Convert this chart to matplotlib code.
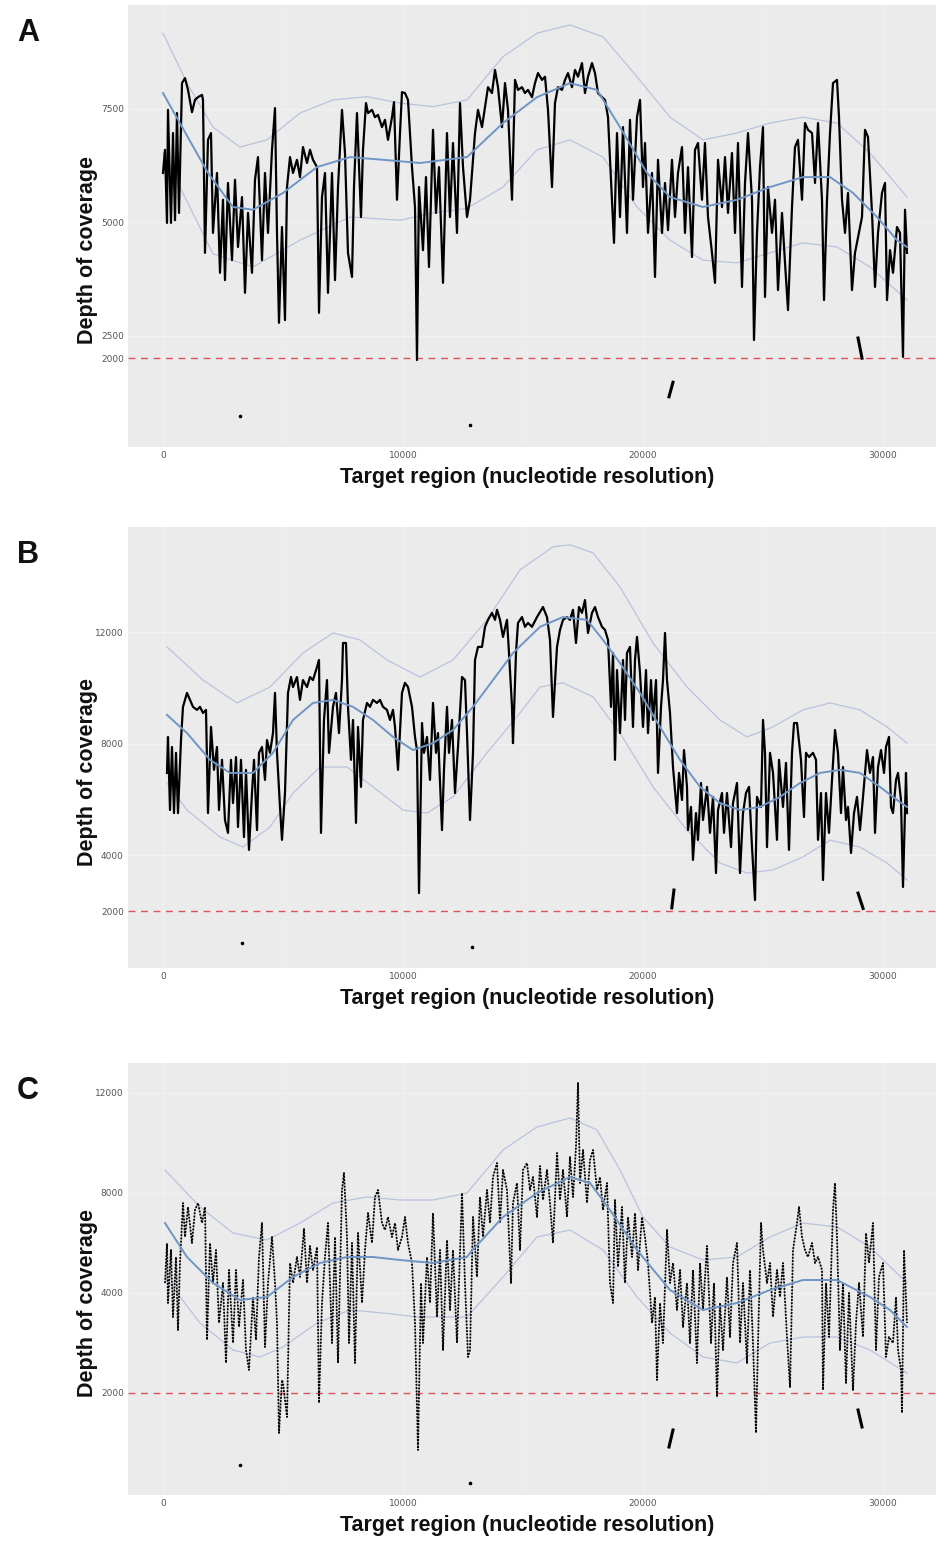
import numpy as np
import matplotlib.pyplot as plt

# ---------------- panel A ----------------
a_pos = [0, 83, 167, 208, 333, 417, 500, 583, 667, 792, 917, 1042, 1208, 1333, 1458, 1625, 1667, 1750, 1875, 2000,
         2083, 2250, 2375, 2500, 2583, 2708, 2875, 3000, 3125, 3292, 3417, 3542, 3708, 3833, 3958, 4125, 4250, 4375,
         4542, 4667, 4750, 4833, 4958, 5083, 5167, 5292, 5417, 5583, 5708, 5833, 6000, 6125, 6250, 6417, 6500, 6625,
         6750, 6875, 7042, 7167, 7292, 7458, 7583, 7708, 7875, 7958, 8083, 8250, 8333, 8458, 8542, 8708, 8833, 8958,
         9125, 9250, 9375, 9542, 9625, 9750, 9875, 9958, 10083, 10208, 10375, 10500, 10583, 10667, 10833, 10958,
         11083, 11250, 11375, 11500, 11667, 11833, 11958, 12083, 12250, 12375, 12500, 12667, 12792, 13000, 13125,
         13292, 13417, 13542, 13708, 13833, 13958, 14125, 14250, 14375, 14542, 14667, 14792, 14958, 15083, 15208,
         15375, 15500, 15625, 15792, 15917, 16042, 16208, 16333, 16458, 16625, 16750, 16875, 17042, 17167, 17292,
         17458, 17583, 17708, 17875, 18000, 18125, 18292, 18417, 18542, 18708, 18792, 18917, 19042, 19167, 19333,
         19458, 19583, 19750, 19875, 20000, 20083, 20208, 20375, 20500, 20625, 20792, 20917, 21042, 21208, 21333,
         21458, 21625, 21750, 21875, 22042, 22167, 22292, 22458, 22583, 22708, 22875, 23000, 23125, 23292, 23417,
         23542, 23708, 23833, 23958, 24125, 24250, 24375, 24542, 24625, 24750, 24875, 25000, 25083, 25208, 25375,
         25500, 25625, 25792, 25917, 26042, 26208, 26333, 26458, 26625, 26750, 26875, 27042, 27167, 27292, 27458,
         27542, 27667, 27792, 27917, 28083, 28167, 28292, 28417, 28542, 28708, 28833, 29125, 29250, 29375, 29542,
         29667, 29792, 29958, 30083, 30167, 30292, 30417, 30583, 30708, 30833, 30917, 31000]
a_depth = [6080, 6590, 4980, 7470, 4980, 6960, 5040, 7400, 5200, 8060, 8170, 7910, 7420, 7690, 7750, 7800, 7690, 4320,
           6810, 6960, 4760, 6080, 3880, 5490, 3720, 5860, 4160, 5930, 4450, 5550, 3440, 5200, 3880, 5930, 6430, 4160,
           6080, 4760, 6590, 7510, 4760, 2780, 4890, 2840, 5770, 6430, 6080, 6370, 5990, 6650, 6300, 6590, 6370, 6210,
           3000, 5550, 6080, 3440, 6080, 3720, 5770, 7470, 6520, 4320, 3790, 5770, 7400, 5110, 6590, 7620, 7400, 7470,
           7310, 7360, 7090, 7250, 6810, 7310, 7640, 5490, 6960, 7860, 7840, 7690, 6210, 5330, 1960, 5770, 4380, 5990,
           4010, 7030, 5200, 6210, 3660, 6960, 5110, 6740, 4760, 7620, 6210, 5110, 5490, 6960, 7470, 7090, 7530, 7970,
           7840, 8350, 7970, 7090, 8060, 7470, 5490, 8130, 7910, 7970, 7840, 7910, 7750, 8060, 8280, 8130, 8200, 7470,
           5770, 7620, 7970, 7910, 8130, 8280, 7970, 8350, 8200, 8500, 7840, 8200, 8500, 8280, 7840, 7750, 7690, 7310,
           5490, 4540, 6960, 5110, 7090, 4760, 7250, 5490, 7310, 7690, 5770, 6740, 4760, 6080, 3790, 6370, 4760, 5860,
           4820, 6370, 5110, 6080, 6650, 4760, 6210, 4230, 6590, 6740, 5490, 6740, 5110, 4320, 3660, 6370, 5330, 6430,
           5200, 6520, 4760, 6740, 3570, 5860, 6960, 5490, 2400, 4760, 6210, 7090, 3350, 5770, 4760, 5490, 3500, 5200,
           4100, 3060, 5330, 6650, 6810, 5490, 7180, 7030, 6960, 5860, 7180, 5490, 3280, 5490, 6960, 8060, 8130, 7310,
           5490, 4760, 5640, 3500, 4320, 5110, 7030, 6870, 5200, 3570, 4760, 5640, 5860, 3280, 4380, 3880, 4890, 4760,
           2030, 5270, 4320]
a_fit_pos = [0, 1875, 2917, 3750, 5000, 6417, 7792, 9167, 10708, 12667, 14167, 15583, 16958, 18083, 19042, 20167,
             21125, 22500, 23917, 25292, 26667, 27792, 28750, 29750, 30583, 31000]
a_fit = [7840, 6080, 5330, 5270, 5640, 6210, 6430, 6370, 6300, 6430, 7180, 7750, 8060, 7910, 7090, 6080, 5550, 5330,
         5490, 5770, 5990, 5990, 5640, 5110, 4600, 4450]
a_upper_pos = [0, 1000, 2083, 3208, 4333, 5708, 7083, 8500, 9875, 11250, 12667, 14167, 15583, 16958, 18333, 19750,
               21125, 22500, 23917, 25292, 26667, 28083, 29458, 31000]
a_upper = [9160, 8060, 7090, 6650, 6810, 7400, 7690, 7760, 7620, 7540, 7690, 8640, 9160, 9340, 9080, 8200, 7310, 6810,
           6960, 7180, 7310, 7180, 6520, 5550]
a_lower_pos = [0, 2083, 3750, 5708, 7792, 9875, 11250, 12667, 14167, 15583, 16958, 18333, 19750, 21125, 22500, 23917,
               25292, 26667, 28083, 29458, 31000]
a_lower = [6520, 4300, 4010, 4600, 5110, 5040, 5200, 5300, 5770, 6590, 6810, 6430, 5330, 4600, 4160, 4100, 4320, 4540,
           4450, 4010, 3280]
a_iso_pos = [[3208], [12792], [21083, 21250], [28960, 29125]]
a_iso_depth = [[727], [530], [1150, 1470], [2445, 2000]]

# ---------------- panel B ----------------
b_pos = [167, 208, 292, 375, 458, 542, 625, 750, 833, 1000, 1125, 1250, 1417, 1542, 1667, 1792, 1875, 2000, 2125, 2250,
         2333, 2458, 2583, 2708, 2833, 2917, 3042, 3125, 3250, 3375, 3458, 3583, 3708, 3792, 3917, 4000, 4125, 4250,
         4333, 4458, 4583, 4667, 4750, 4875, 4958, 5083, 5208, 5333, 5417, 5583, 5708, 5833, 6000, 6125, 6250, 6417,
         6500, 6583, 6708, 6833, 6917, 7083, 7208, 7333, 7458, 7500, 7625, 7708, 7833, 7917, 8042, 8125, 8250, 8333,
         8500, 8625, 8750, 8917, 9042, 9167, 9333, 9458, 9583, 9667, 9792, 9958, 10083, 10208, 10375, 10500, 10583,
         10667, 10792, 10875, 11000, 11125, 11250, 11375, 11458, 11625, 11708, 11833, 11917, 12042, 12167, 12292,
         12458, 12583, 12667, 12792, 12917, 13000, 13125, 13292, 13417, 13542, 13708, 13833, 13917, 14042, 14167,
         14333, 14417, 14542, 14583, 14708, 14792, 14958, 15083, 15208, 15375, 15583, 15833, 16000, 16125, 16250,
         16417, 16542, 16667, 16833, 16958, 17083, 17208, 17333, 17458, 17583, 17708, 17875, 18000, 18125, 18292,
         18417, 18542, 18667, 18750, 18833, 18917, 19042, 19167, 19250, 19333, 19458, 19583, 19667, 19750, 19875,
         20000, 20125, 20208, 20333, 20417, 20542, 20625, 20750, 20833, 20917, 21000, 21125, 21250, 21417, 21500,
         21625, 21708, 21833, 21875, 22000, 22083, 22208, 22292, 22417, 22500, 22667, 22792, 22917, 23042, 23125,
         23292, 23375, 23500, 23667, 23750, 23917, 24042, 24167, 24292, 24417, 24542, 24667, 24750, 24917, 25000,
         25083, 25167, 25292, 25417, 25583, 25667, 25833, 25958, 26083, 26208, 26292, 26417, 26583, 26708, 26792,
         26917, 27083, 27208, 27292, 27417, 27500, 27625, 27750, 27875, 28000, 28125, 28250, 28333, 28458, 28542,
         28667, 28792, 28917, 29042, 29167, 29333, 29458, 29583, 29667, 29792, 29917, 30042, 30125, 30250, 30333,
         30417, 30542, 30625, 30750, 30833, 30958, 31000]
b_depth = [6960, 8250, 5630, 7890, 5520, 7680, 5520, 8140, 9330, 9830, 9580, 9330, 9220, 9330, 9110, 9220, 5520, 8610,
           7070, 7890, 5630, 7430, 5270, 4810, 7430, 5880, 7530, 5020, 7430, 4660, 7070, 4200, 6240, 7430, 4910, 7680,
           7890, 6710, 8140, 7680, 8390, 9830, 7680, 5740, 4560, 6240, 9830, 10400, 10040, 10400, 9580, 10290, 10040,
           10400, 10290, 10760, 11010, 4810, 8860, 10290, 7680, 9330, 9830, 8390, 10290, 11620, 11620, 9330, 7430,
           8860, 5170, 8610, 6460, 8860, 9470, 9330, 9580, 9470, 9580, 9330, 9220, 8860, 9220, 8610, 7070, 9830, 10190,
           10040, 9330, 8250, 7780, 2650, 8750, 7680, 8250, 6710, 9470, 7680, 8390, 4910, 7070, 9330, 7680, 8860, 6240,
           7890, 10400, 10290, 8390, 5270, 7680, 11010, 11480, 11480, 12200, 12450, 12700, 12450, 12810, 12450, 11840,
           12450, 11260, 9330, 8030, 11260, 12340, 12550, 12200, 12340, 12200, 12550, 12910, 12550, 11730, 8970,
           11480, 12090, 12450, 12550, 12450, 12810, 11620, 12910, 12700, 13160, 11980, 12700, 12910, 12550, 12200,
           12090, 11730, 9330, 11260, 7430, 10650, 8390, 11010, 8860, 11260, 11480, 8610, 11010, 11840, 10550, 8610,
           10650, 8390, 10290, 8860, 10290, 6960, 9330, 10290, 11980, 10290, 9110, 7170, 5520, 6960, 5990, 7780, 6460,
           4910, 5740, 3840, 5520, 4560, 6600, 5270, 6460, 4810, 6100, 3370, 5630, 6240, 4810, 6240, 4300, 5880, 6600,
           3370, 5520, 6240, 6460, 4300, 2400, 6100, 5740, 8860, 7680, 4300, 7680, 6960, 4560, 7430, 5740, 7320, 4200,
           7680, 8750, 8750, 7430, 5380, 7680, 7530, 7680, 7430, 4560, 6240, 3120, 6240, 4810, 6710, 8500, 7680, 5520,
           7170, 5270, 5740, 4090, 5520, 6100, 4910, 6100, 7780, 6960, 7530, 4810, 7170, 7780, 6960, 7890, 8250, 5740,
           5520, 6710, 6960, 5990, 2870, 6960, 5520]
b_fit_pos = [167, 1000, 1958, 2792, 3750, 4583, 5417, 6250, 7083, 7917, 8750, 9583, 10417, 11250, 12083, 12917, 13750,
             14583, 15708, 16667, 17667, 18333, 19042, 19875, 20708, 21542, 22375, 23208, 24042, 24875, 25708, 26542,
             27375, 28208, 29042, 29875, 30583, 31000]
b_fit = [9040, 8390, 7430, 6960, 6960, 7680, 8860, 9470, 9580, 9330, 8860, 8250, 7780, 8030, 8500, 9330, 10290, 11260,
         12200, 12550, 12450, 11730, 10900, 9830, 8610, 7430, 6460, 5880, 5630, 5740, 6100, 6600, 6960, 7070, 6960,
         6460, 5990, 5740]
b_upper_pos = [167, 1667, 3083, 4458, 5833, 7083, 8208, 9333, 10708, 12083, 13500, 14875, 16250, 16958, 17917, 19042,
               20417, 21833, 23208, 24333, 25417, 26667, 27792, 29042, 30167, 31000]
b_upper = [11480, 10290, 9470, 10040, 11260, 11980, 11730, 11010, 10400, 11010, 12450, 14240, 15070, 15140, 14850,
           13630, 11620, 10040, 8860, 8250, 8610, 9220, 9470, 9220, 8610, 8030]
b_lower_pos = [167, 1000, 2375, 3333, 4458, 5417, 6542, 7667, 8750, 10000, 11000, 12083, 13500, 14875, 15708, 16667,
               17917, 19042, 20417, 21833, 23208, 24333, 25417, 26667, 27792, 29042, 30167, 31000]
b_lower = [6600, 5630, 4660, 4300, 5020, 6240, 7170, 7170, 6460, 5630, 5520, 6100, 7680, 9110, 10040, 10190, 9690,
           8390, 6460, 4910, 3730, 3370, 3480, 3950, 4550, 4300, 3730, 3120]
b_iso_pos = [[3292], [12875], [21200, 21290], [28960, 29170]]
b_iso_depth = [[860], [720], [2120, 2760], [2650, 2100]]

# ---------------- panel C ----------------
c_pos = [83, 167, 208, 333, 417, 542, 625, 708, 833, 917, 1042, 1208, 1333, 1458, 1625, 1750, 1833, 1958, 2083, 2208,
         2333, 2500, 2625, 2750, 2917, 3042, 3167, 3333, 3458, 3583, 3750, 3875, 4000, 4125, 4250, 4375, 4542, 4667,
         4750, 4833, 4958, 5000, 5167, 5292, 5417, 5583, 5708, 5875, 6000, 6125, 6250, 6417, 6500, 6625, 6750, 6875,
         7042, 7167, 7292, 7458, 7542, 7667, 7750, 7875, 8000, 8125, 8292, 8417, 8542, 8708, 8833, 8958, 9125, 9250,
         9375, 9542, 9667, 9792, 9958, 10083, 10208, 10375, 10500, 10625, 10750, 10833, 11000, 11125, 11250, 11417,
         11542, 11667, 11833, 11958, 12083, 12250, 12458, 12583, 12708, 12792, 12917, 13083, 13208, 13333, 13500,
         13625, 13750, 13917, 14042, 14167, 14333, 14500, 14583, 14750, 14875, 15000, 15167, 15292, 15417, 15583,
         15708, 15833, 16000, 16125, 16250, 16417, 16542, 16667, 16833, 16958, 17083, 17208, 17292, 17375, 17500,
         17667, 17792, 17917, 18083, 18208, 18333, 18500, 18625, 18750, 18833, 18958, 19125, 19250, 19375, 19542,
         19667, 19792, 19958, 20083, 20208, 20375, 20500, 20583, 20708, 20833, 21000, 21125, 21250, 21417, 21542,
         21667, 21833, 21958, 22083, 22250, 22375, 22500, 22667, 22833, 22958, 23083, 23208, 23333, 23500, 23625,
         23750, 23917, 24042, 24167, 24333, 24458, 24583, 24708, 24792, 24917, 25000, 25167, 25292, 25417, 25583,
         25708, 25833, 26000, 26125, 26250, 26417, 26500, 26625, 26750, 26875, 27042, 27167, 27292, 27458, 27500,
         27625, 27750, 27917, 28000, 28083, 28208, 28333, 28458, 28583, 28750, 28875, 29000, 29167, 29292, 29417,
         29583, 29708, 29833, 30000, 30125, 30250, 30417, 30542, 30625, 30750, 30792, 30875, 31000]
c_depth = [4400, 5960, 3800, 5720, 3520, 5440, 3260, 5200, 7600, 6240, 7440, 6000, 7320, 7600, 6800, 7440, 3060, 6000,
           4400, 5720, 3400, 4400, 2600, 4920, 3000, 4920, 3320, 4520, 2860, 2460, 3920, 3060, 5440, 6800, 2920, 4400,
           6240, 4400, 3400, 1200, 2260, 2200, 1520, 5200, 4400, 5440, 4640, 6560, 4400, 5880, 4920, 5840, 1800, 3800,
           5440, 6800, 3000, 6240, 2600, 8120, 8800, 6240, 3000, 6000, 2600, 6400, 3800, 5720, 7200, 6000, 7840, 8120,
           6800, 6520, 7040, 6240, 6800, 5720, 6240, 7040, 6000, 5200, 3400, 860, 4400, 3000, 5440, 3800, 7200, 3520,
           5720, 2860, 6120, 3660, 5720, 3000, 8000, 4400, 2720, 2860, 7040, 4640, 7840, 6240, 8120, 6800, 8640, 9200,
           6800, 8920, 8120, 4400, 7600, 8400, 5720, 8920, 9200, 8120, 8640, 7040, 9080, 7720, 8920, 7600, 6000, 9600,
           7720, 8920, 7040, 9440, 7840, 9840, 12400, 8400, 9720, 7600, 9320, 9720, 8120, 8640, 7320, 8400, 4400, 3800,
           7720, 5040, 7440, 4400, 7040, 5440, 7200, 4920, 7040, 6240, 5200, 3400, 3920, 2260, 3800, 3000, 6520, 4400,
           5200, 3660, 4920, 3320, 4400, 3000, 4920, 2600, 5200, 3660, 5880, 3000, 4400, 1920, 3800, 2860, 4640, 3120,
           5200, 6000, 3000, 4400, 2600, 4920, 3000, 1200, 3000, 6800, 5720, 4400, 5200, 3520, 4920, 3920, 5200, 3120,
           2120, 5720, 6800, 7440, 6240, 5720, 5440, 6000, 5200, 5440, 4920, 2060, 4400, 3120, 7320, 8400, 6240, 2860,
           4400, 2200, 4000, 2060, 3400, 4400, 3120, 6400, 5200, 6800, 2860, 4640, 5200, 2720, 3120, 3000, 3920, 2860,
           2460, 1600, 5720, 3400]
c_fit_pos = [83, 1000, 2083, 3208, 4333, 5417, 6542, 7667, 8750, 9875, 11250, 12667, 12792, 14167, 15583, 16958,
             17792, 18625, 19750, 21125, 22500, 23917, 25292, 26667, 28083, 29458, 30292, 31000]
c_fit = [6800, 5440, 4400, 3860, 3920, 4640, 5200, 5440, 5440, 5320, 5200, 5440, 5600, 7040, 8000, 8640, 8400, 7320,
         5720, 4120, 3660, 3800, 4120, 4520, 4520, 3920, 3660, 3320]
c_upper_pos = [83, 1542, 2917, 4333, 5708, 7083, 8500, 9875, 11250, 12667, 14167, 15583, 16958, 18083, 19042, 20000,
               21125, 22500, 23917, 25292, 26667, 28083, 29458, 31000]
c_upper = [8920, 7440, 6400, 6120, 6800, 7600, 7840, 7720, 7720, 8000, 9720, 10640, 11000, 10520, 8920, 7040, 5840,
           5320, 5440, 6240, 6800, 6640, 5840, 4400]
c_lower_pos = [83, 1542, 2917, 4042, 5000, 6417, 7792, 9167, 10583, 12667, 14167, 15583, 16958, 18333, 19750, 21125,
               22500, 23917, 25292, 26667, 28083, 29458, 31000]
c_lower = [4640, 3400, 2860, 2720, 2920, 3400, 3660, 3600, 3520, 3520, 4640, 6240, 6520, 5720, 3920, 3200, 2720, 2600,
           3000, 3120, 3120, 2860, 2400]
c_iso_pos = [[3208], [12792], [21083, 21250], [28960, 29125]]
c_iso_depth = [[560], [200], [920, 1260], [1660, 1320]]

threshold = 2000
x_ticks = [0, 10000, 20000, 30000]
a_yticks = [2000, 2500, 5000, 7500]
bc_yticks = [2000, 4000, 8000, 12000]


# the y axis in panel C is squeezed above 4000 (as printed)
def squeeze(v):
    v = np.asarray(v, dtype=float)
    return np.where(v <= 4000, v, 4000 + (v - 4000) / 2)


def unsqueeze(u):
    u = np.asarray(u, dtype=float)
    return np.where(u <= 4000, u, 4000 + (u - 4000) * 2)


W, H = 937, 1550
fig = plt.figure(figsize=(W / 100, H / 100), dpi=100)
bold = dict(family=["Liberation Sans", "DejaVu Sans"], weight="bold", color="#111111")

panels = [
    # letter, top px, bottom px, ylim, yticks, data...
    ("A", 5, 447, (44, 9780), a_yticks, a_pos, a_depth, a_fit_pos, a_fit, a_upper_pos, a_upper,
     a_lower_pos, a_lower, a_iso_pos, a_iso_depth, False),
    ("B", 527, 968, (-36, 15780), bc_yticks, b_pos, b_depth, b_fit_pos, b_fit, b_upper_pos, b_upper,
     b_lower_pos, b_lower, b_iso_pos, b_iso_depth, False),
    ("C", 1063, 1495, (-40, 13200), bc_yticks, c_pos, c_depth, c_fit_pos, c_fit, c_upper_pos, c_upper,
     c_lower_pos, c_lower, c_iso_pos, c_iso_depth, True),
]

for (letter, top, bot, ylim, yticks, pos, depth, fpos, fit, upos, upper, lpos, lower,
     ipos, idepth, dotted) in panels:
    ax = fig.add_axes([128 / W, 1 - bot / H, (W - 128) / W, (bot - top) / H])
    ax.set_facecolor("#ebebeb")
    if dotted:
        ax.set_yscale("function", functions=(squeeze, unsqueeze))
    ax.set_xlim(-1458, 32250)
    ax.set_ylim(*ylim)
    for s in ax.spines.values():
        s.set_visible(False)

    # faint ggplot-like grid
    for gx in [-5000, 0, 5000, 10000, 15000, 20000, 25000, 30000]:
        ax.axvline(gx, color="white", lw=0.5 if gx % 10000 == 0 else 0.3, alpha=0.55, zorder=0)
    for gy in yticks:
        ax.axhline(gy, color="white", lw=0.5, alpha=0.55, zorder=0)

    ax.axhline(threshold, color="#e0525a", lw=1.0, ls=(0, (5, 4)), zorder=1)

    if dotted:
        ax.plot(pos, depth, color="black", lw=1.3, ls=(0, (1, 0.8)), zorder=3)
        ax.plot(pos, depth, color="black", lw=0.3, alpha=0.6, zorder=3)
    else:
        ax.plot(pos, depth, color="black", lw=1.6, zorder=3)
    for xs, ys in zip(ipos, idepth):
        if len(xs) == 1:
            ax.plot(xs, ys, "o", color="black", ms=1.6, zorder=3)
        else:
            ax.plot(xs, ys, color="black", lw=2.2, zorder=3)

    ax.plot(upos, upper, color="#b9c3df", lw=0.9, zorder=2)
    ax.plot(lpos, lower, color="#b9c3df", lw=0.9, zorder=2)
    ax.plot(fpos, fit, color="#6f95c6", lw=1.4, zorder=4)

    ax.set_xticks(x_ticks)
    ax.set_xticklabels([str(t) for t in x_ticks])
    ax.set_yticks(yticks)
    ax.set_yticklabels([str(t) for t in yticks])
    ax.minorticks_off()
    ax.tick_params(length=0, labelsize=6.5, labelcolor="#555555", pad=3)

    fig.text(88 / W, 1 - ((top + bot) / 2 + 24) / H, "Depth of coverage", rotation=90,
             ha="center", va="center", fontsize=15.5, **bold)
    fig.text(527 / W, 1 - (bot + 30) / H, "Target region (nucleotide resolution)",
             ha="center", va="center", fontsize=15.5, **bold)
    fig.text(28 / W, 1 - (top + 28) / H, letter, ha="center", va="center", fontsize=22, **bold)

fig.savefig("out.png", dpi=100, facecolor="white")
